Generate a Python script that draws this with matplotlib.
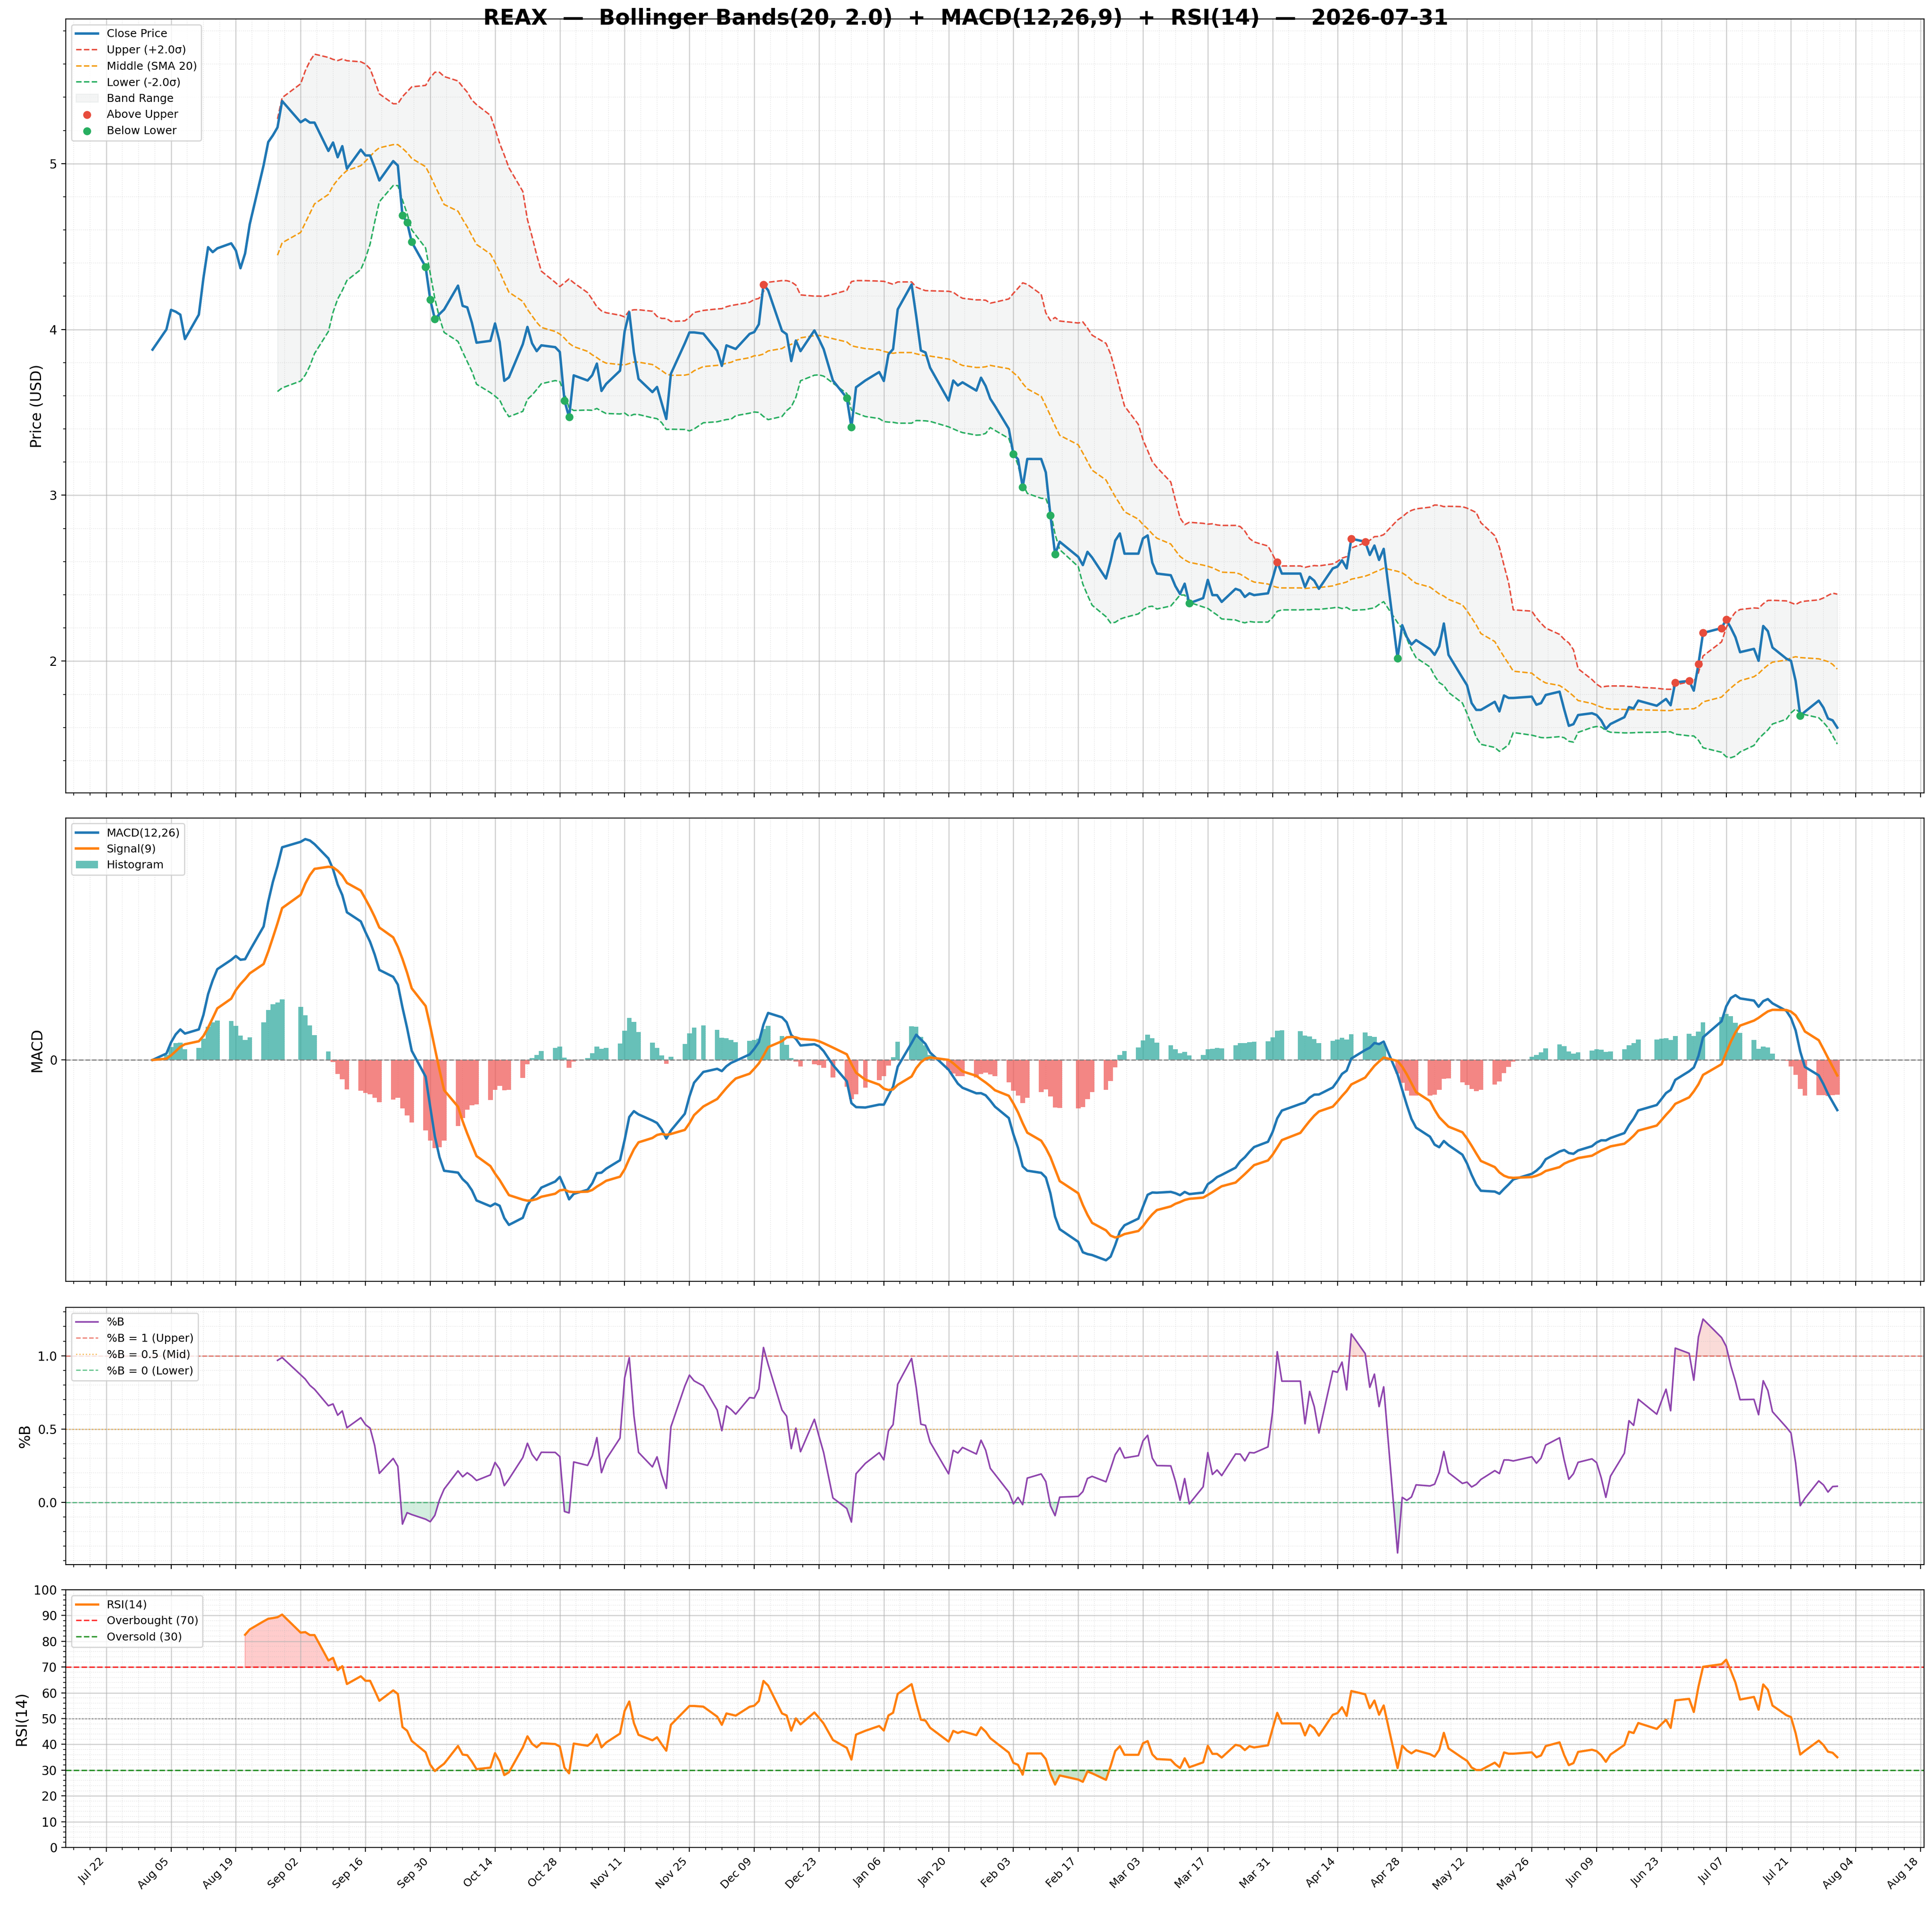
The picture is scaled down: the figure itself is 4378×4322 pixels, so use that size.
import numpy as np
import pandas as pd
import matplotlib
matplotlib.use("Agg")
import matplotlib.pyplot as plt
import matplotlib.dates as mdates
from matplotlib.ticker import MultipleLocator, FixedLocator

# ---------------- data ----------------
# exchange trading days (weekdays minus market holidays)
holidays = pd.to_datetime([
    "2025-09-01", "2025-11-27", "2025-12-25", "2026-01-01", "2026-01-19",
    "2026-02-16", "2026-04-03", "2026-05-25", "2026-06-19", "2026-07-03",
])
dates = pd.bdate_range("2025-08-01", "2026-07-31")
dates = dates[~dates.isin(holidays)]

close = np.array([
    3.878,
    4.000, 4.118, 4.107, 4.089, 3.942,          # Aug 4-8
    4.089, 4.310, 4.496, 4.466, 4.489,          # Aug 11-15
    4.519, 4.476, 4.369, 4.458, 4.634,          # Aug 18-22
    4.990, 5.130, 5.170, 5.218, 5.377,          # Aug 25-29
    5.249, 5.267, 5.247, 5.247,                 # Sep 2-5
    5.076, 5.127, 5.038, 5.105, 4.969,          # Sep 8-12
    5.084, 5.049, 5.049, 4.977, 4.898,          # Sep 15-19
    5.015, 4.988, 4.687, 4.646, 4.527,          # Sep 22-26
    4.377, 4.180, 4.062, 4.093, 4.120,          # Sep 29-Oct 3
    4.264, 4.142, 4.133, 4.040, 3.920,          # Oct 6-10
    3.931, 4.036, 3.924, 3.690, 3.711,          # Oct 13-17
    3.911, 4.015, 3.916, 3.869, 3.904,          # Oct 20-24
    3.893, 3.864, 3.571, 3.471, 3.723,          # Oct 27-31
    3.692, 3.724, 3.794, 3.629, 3.671,          # Nov 3-7
    3.751, 3.988, 4.104, 3.862, 3.702,          # Nov 10-14
    3.622, 3.653, 3.556, 3.460, 3.733,          # Nov 17-21
    3.916, 3.982, 3.982, 3.975,                 # Nov 24-28
    3.871, 3.780, 3.904, 3.893, 3.882,          # Dec 1-5
    3.973, 3.984, 4.031, 4.271, 4.236,          # Dec 8-12
    3.991, 3.971, 3.809, 3.933, 3.869,          # Dec 15-19
    3.994, 3.940, 3.881, 3.692,                 # Dec 22-26
    3.587, 3.410, 3.651, 3.692,                 # Dec 29-Jan 2
    3.743, 3.689, 3.850, 3.881, 4.121,          # Jan 5-9
    4.271, 4.080, 3.873, 3.861, 3.769,          # Jan 12-16
    3.571, 3.692, 3.662, 3.681,                 # Jan 20-23
    3.631, 3.709, 3.659, 3.582, 3.539,          # Jan 26-30
    3.401, 3.248, 3.217, 3.049, 3.219,          # Feb 2-6
    3.219, 3.138, 2.878, 2.645, 2.720,          # Feb 9-13
    2.629, 2.579, 2.659, 2.625,                 # Feb 17-20
    2.498, 2.602, 2.727, 2.770, 2.648,          # Feb 23-27
    2.648, 2.740, 2.758, 2.594, 2.528,          # Mar 2-6
    2.518, 2.452, 2.405, 2.467, 2.349,          # Mar 9-13
    2.380, 2.490, 2.398, 2.398, 2.357,          # Mar 16-20
    2.436, 2.426, 2.387, 2.409, 2.398,          # Mar 23-27
    2.409, 2.498, 2.597, 2.528,                 # Mar 30-Apr 2
    2.528, 2.447, 2.508, 2.485, 2.436,          # Apr 6-10
    2.559, 2.570, 2.608, 2.559, 2.738,          # Apr 13-17
    2.720, 2.640, 2.697, 2.610, 2.677,          # Apr 20-24
    2.018, 2.217, 2.145, 2.100, 2.127,          # Apr 27-May 1
    2.072, 2.038, 2.089, 2.227, 2.038,          # May 4-8
    1.900, 1.855, 1.747, 1.706, 1.706,          # May 11-15
    1.755, 1.697, 1.793, 1.778, 1.778,          # May 18-22
    1.786, 1.737, 1.747, 1.796,                 # May 26-29
    1.816, 1.709, 1.610, 1.620, 1.675,          # Jun 1-5
    1.686, 1.675, 1.643, 1.591, 1.621,          # Jun 8-12
    1.662, 1.723, 1.715, 1.762,                 # Jun 15-18
    1.731, 1.752, 1.772, 1.734, 1.872,          # Jun 22-26
    1.881, 1.822, 1.982, 2.170,                 # Jun 29-Jul 2
    2.199, 2.251, 2.201, 2.144, 2.054,          # Jul 6-10
    2.074, 2.002, 2.212, 2.181, 2.082,          # Jul 13-17
    2.015, 2.002, 1.881, 1.671, 1.695,          # Jul 20-24
    1.762, 1.720, 1.654, 1.643, 1.599,          # Jul 27-31
])

bb_window = 20
bb_k = 2.0
macd_fast, macd_slow, macd_sig = 12, 26, 9
rsi_period = 14
ticker = "REAX"
asof = "2026-07-31"

x_major_ticks = pd.date_range("2025-07-22", "2026-08-18", freq="14D")

# ---------------- indicators ----------------
s = pd.Series(close, index=dates)
mid = s.rolling(bb_window).mean()
sd = s.rolling(bb_window).std()
upper = mid + bb_k * sd
lower = mid - bb_k * sd
pctb = (s - lower) / (upper - lower)

ema_f = s.ewm(span=macd_fast, adjust=False).mean()
ema_s = s.ewm(span=macd_slow, adjust=False).mean()
macd = ema_f - ema_s
signal = macd.ewm(span=macd_sig, adjust=False).mean()
hist = macd - signal

delta = s.diff()
gain = delta.clip(lower=0)
loss = -delta.clip(upper=0)
avg_g = gain.ewm(alpha=1 / rsi_period, adjust=False, min_periods=rsi_period).mean()
avg_l = loss.ewm(alpha=1 / rsi_period, adjust=False, min_periods=rsi_period).mean()
rsi = 100 - 100 / (1 + avg_g / avg_l)

above = s > upper
below = s < lower

# ---------------- figure ----------------
W, H = 4378, 4322
fig = plt.figure(figsize=(W / 200, H / 200), dpi=200)

left = 149 / W
width = (4360 - 149) / W

def pos(top_px, bot_px):
    return [left, 1 - bot_px / H, width, (bot_px - top_px) / H]

ax1 = fig.add_axes(pos(43, 1797))
ax2 = fig.add_axes(pos(1854, 2904), sharex=ax1)
ax3 = fig.add_axes(pos(2963, 3546), sharex=ax1)
ax4 = fig.add_axes(pos(3603, 4187), sharex=ax1)

C_BLUE = "#1f77b4"
C_ORANGE = "#ff7f0e"
C_RED = "#e74c3c"
C_MID = "#f39c12"
C_GREEN = "#27ae60"

# Price panel
ax1.plot(dates, s, color=C_BLUE, lw=2, label="Close Price", zorder=4)
ax1.plot(dates, upper, color=C_RED, ls="--", lw=1.2, label="Upper (+2.0σ)", zorder=3)
ax1.plot(dates, mid, color=C_MID, ls="--", lw=1.2, label="Middle (SMA 20)", zorder=3)
ax1.plot(dates, lower, color=C_GREEN, ls="--", lw=1.2, label="Lower (-2.0σ)", zorder=3)
ax1.fill_between(dates, lower, upper, color="#95a5a6", alpha=0.1, label="Band Range", zorder=1)
ax1.scatter(dates[above.values], s[above], color=C_RED, s=30, zorder=5, label="Above Upper")
ax1.scatter(dates[below.values], s[below], color=C_GREEN, s=30, zorder=5, label="Below Lower")
ax1.set_ylabel("Price (USD)", fontsize=12)
ax1.yaxis.set_major_locator(MultipleLocator(1))
ax1.legend(loc="upper left", fontsize=9)

# MACD panel
ax2.plot(dates, macd, color=C_BLUE, lw=2, label="MACD(12,26)", zorder=3)
ax2.plot(dates, signal, color=C_ORANGE, lw=2, label="Signal(9)", zorder=3)
hcolors = ["#26a69a" if v >= 0 else "#ef5350" for v in hist.values]
ax2.bar(dates, hist.values, width=1.0, color=hcolors, alpha=0.7, label="Histogram", zorder=2)
ax2.axhline(0, color="gray", ls="--", lw=1, alpha=0.9, zorder=2)
ax2.set_ylabel("MACD", fontsize=12)
ax2.set_yticks([0])
ax2.legend(loc="upper left", fontsize=9)

# %B panel
ax3.plot(dates, pctb, color="#8e44ad", lw=1.3, label="%B", zorder=3)
ax3.axhline(1, color=C_RED, ls="--", lw=1, alpha=0.7, label="%B = 1 (Upper)")
ax3.axhline(0.5, color=C_MID, ls=":", lw=1, alpha=0.7, label="%B = 0.5 (Mid)")
ax3.axhline(0, color=C_GREEN, ls="--", lw=1, alpha=0.7, label="%B = 0 (Lower)")
ax3.fill_between(dates, pctb, 1, where=(pctb > 1).values, color=C_RED, alpha=0.2, interpolate=True)
ax3.fill_between(dates, pctb, 0, where=(pctb < 0).values, color=C_GREEN, alpha=0.2, interpolate=True)
ax3.set_ylabel("%B", fontsize=12)
ax3.yaxis.set_major_locator(MultipleLocator(0.5))
ax3.legend(loc="upper left", fontsize=9)

# RSI panel
ax4.plot(dates, rsi, color=C_ORANGE, lw=1.8, label="RSI(14)", zorder=3)
ax4.axhline(70, color="red", ls="--", lw=1.2, alpha=0.8, label="Overbought (70)")
ax4.axhline(30, color="green", ls="--", lw=1.2, alpha=0.8, label="Oversold (30)")
ax4.axhline(50, color="gray", ls=":", lw=1, alpha=0.8)
ax4.fill_between(dates, rsi, 70, where=(rsi >= 70).values, color="red", alpha=0.2, interpolate=True)
ax4.fill_between(dates, rsi, 30, where=(rsi <= 30).values, color="green", alpha=0.2, interpolate=True)
ax4.set_ylim(0, 100)
ax4.set_yticks(np.arange(0, 101, 10))
ax4.set_ylabel("RSI(14)", fontsize=12)
ax4.legend(loc="upper left", fontsize=9)

# shared formatting
ax1.xaxis.set_major_locator(FixedLocator(mdates.date2num(x_major_ticks)))
ax1.xaxis.set_major_formatter(mdates.DateFormatter("%b %d"))
ax1.margins(x=0.05)
for ax in (ax1, ax2, ax3, ax4):
    ax.minorticks_on()
    ax.grid(True, which="major", color="#b0b0b0", alpha=0.6, lw=0.9)
    ax.grid(True, which="minor", color="#b0b0b0", alpha=0.35, lw=0.6, ls=":")
    ax.tick_params(axis="y", labelsize=10)
ax2.yaxis.set_minor_locator(FixedLocator([]))
for ax in (ax1, ax2, ax3):
    plt.setp(ax.get_xticklabels(), visible=False)
plt.setp(ax4.get_xticklabels(), rotation=45, ha="right", fontsize=9)

fig.suptitle(f"{ticker}  —  Bollinger Bands(20, 2.0)  +  MACD(12,26,9)  +  RSI(14)  —  {asof}",
             fontsize=17.5, fontweight="bold", x=0.5, y=1 - 42 / H, va="center")

fig.savefig("out.png", dpi=200)
